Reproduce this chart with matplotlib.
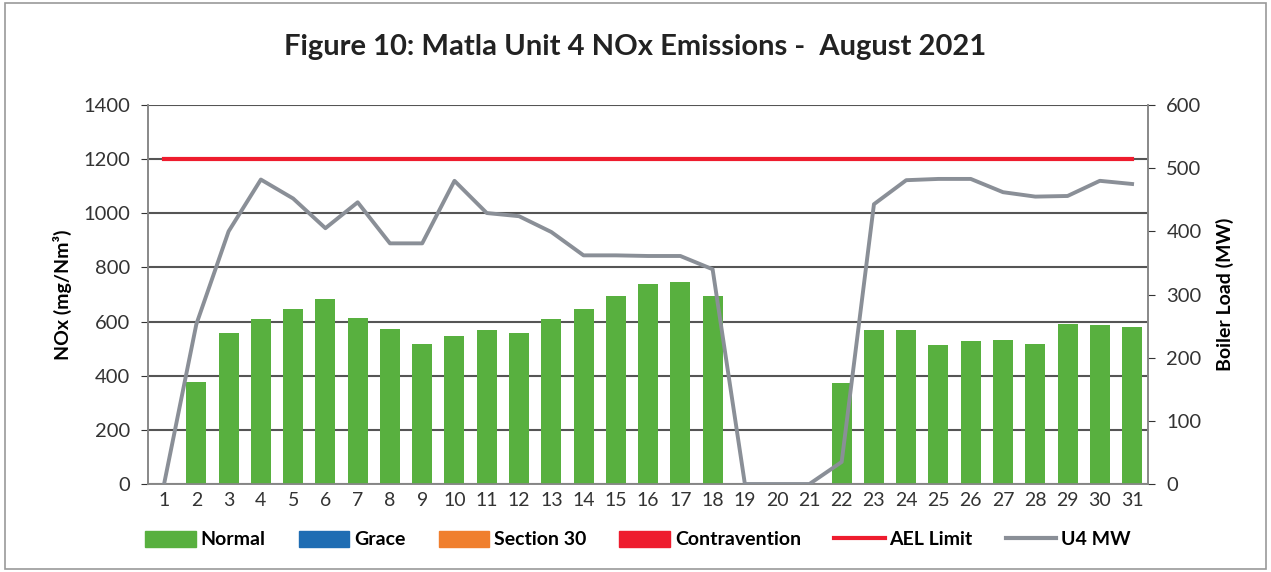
import matplotlib.pyplot as plt
from matplotlib.patches import Patch, Rectangle
from matplotlib.lines import Line2D

plt.rcParams['font.family'] = ['Lato', 'DejaVu Sans']

days = list(range(1, 32))
normal = [0, 378, 557, 610, 648, 685, 615, 573, 518, 545, 568, 558, 610, 645, 695,
          738, 745, 693, 0, 0, 0, 372, 568, 568, 515, 530, 532, 518, 590, 588, 580]
grace = [0] * 31
section30 = [0] * 31
contravention = [0] * 31
ael_limit = [1200] * 31
u4_mw = [0, 253, 400, 482, 452, 405, 446, 381, 381, 480, 429, 424, 399, 362, 362,
         361, 361, 340, 0, 0, 0, 35, 443, 481, 483, 483, 462, 455, 456, 480, 475]

green = '#58b03f'
blue = '#1f6db3'
orange = '#f07f2e'
red = '#ee1c2e'
grey = '#8a8f97'

fig = plt.figure(figsize=(12.71, 5.72), dpi=100)
ax = fig.add_axes([0.1164, 0.1538, 0.787, 0.6626])
ax2 = ax.twinx()

ax.bar(days, normal, width=0.62, color=green, zorder=3)
ax.bar(days, grace, width=0.62, bottom=normal, color=blue, zorder=3)
ax.bar(days, section30, width=0.62, bottom=normal, color=orange, zorder=3)
ax.bar(days, contravention, width=0.62, bottom=normal, color=red, zorder=3)
ax.plot(days, ael_limit, color=red, lw=3, zorder=4)
ax2.plot(days, u4_mw, color=grey, lw=2.8, zorder=4)

ax.set_xlim(0.5, 31.5)
ax.set_ylim(0, 1400)
ax.set_yticks(range(0, 1401, 200))
ax2.set_ylim(0, 600)
ax2.set_yticks(range(0, 601, 100))
ax.set_xticks(days)
ax.grid(axis='y', color='#555555', lw=1.5, zorder=0)
ax.set_axisbelow(True)
ax.tick_params(axis='x', length=0, labelsize=14, colors='#333333', pad=6)
ax.tick_params(axis='y', length=5, labelsize=14.5, colors='#333333', pad=8)
ax2.tick_params(axis='y', length=5, labelsize=14.5, colors='#333333', pad=8)
for a in (ax, ax2):
    a.spines['top'].set_visible(False)
    for s in ('left', 'right', 'bottom'):
        a.spines[s].set_color('#888888')
        a.spines[s].set_linewidth(1.2)

ax.set_ylabel('NOx (mg/Nm³)', fontsize=14, fontweight='bold', labelpad=8)
ax2.set_ylabel('Boiler Load (MW)', fontsize=14, fontweight='bold', labelpad=10)

fig.text(0.5, 0.918, 'Figure 10: Matla Unit 4 NOx Emissions -  August 2021',
         ha='center', va='center', fontsize=21, fontweight='bold', color='#222222')

handles = [Patch(color=green), Patch(color=blue), Patch(color=orange),
           Patch(color=red), Line2D([], [], color=red, lw=3),
           Line2D([], [], color=grey, lw=3)]
labels = ['Normal', 'Grace', 'Section 30', 'Contravention', 'AEL Limit', 'U4 MW']
fig.legend(handles, labels, loc='center', bbox_to_anchor=(0.502, 0.057), ncol=6,
           frameon=False, prop={'size': 14, 'weight': 'bold'}, handlelength=2.6,
           handleheight=0.9, columnspacing=1.7, handletextpad=0.25)

fig.patches.append(Rectangle((0.004, 0.005), 0.992, 0.99, transform=fig.transFigure,
                             fill=False, edgecolor='#999999', lw=1.2))

fig.savefig('out.png', dpi=100)
